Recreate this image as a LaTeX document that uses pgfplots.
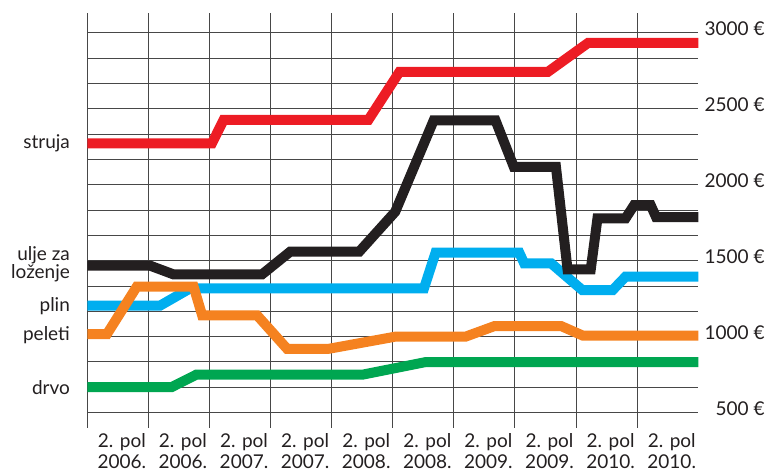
\documentclass[border=0pt]{standalone}
\usepackage{pgfplots}
\pgfplotsset{compat=1.18}
\usepackage{fontspec}
\setmainfont{Lato}

\definecolor{cstruja}{HTML}{ED1C24}
\definecolor{culje}{HTML}{231F20}
\definecolor{cplin}{HTML}{00AEEF}
\definecolor{cpeleti}{HTML}{F58220}
\definecolor{cdrvo}{HTML}{00A651}
\definecolor{ctext}{HTML}{231F20}

\begin{document}
\begin{tikzpicture}
\useasboundingbox (-43.65pt,-21.15pt) rectangle (340.35pt,213.85pt);
\begin{axis}[
    at={(0,0)}, anchor=south west,
    scale only axis, width=305.5pt, height=207.2pt,
    xmin=0, xmax=10, ymin=401, ymax=3128,
    clip=false,
    axis line style={draw=none},
    major tick length=0pt, minor tick length=0pt,
    xtick={0.565,1.565,2.565,3.565,4.565,5.565,6.565,7.565,8.565,9.565},
    xticklabels={{2. pol\\2006.},{2. pol\\2006.},{2. pol\\2007.},{2. pol\\2007.},{2. pol\\2008.},
                 {2. pol\\2008.},{2. pol\\2009.},{2. pol\\2009.},{2. pol\\2010.},{2. pol\\2010.}},
    minor xtick={0,1,2,3,4,5,6,7,8,9},
    xmajorgrids=false, xminorgrids=true,
    ytick={500,1000,1500,2000,2500,3000},
    yticklabels={500 €,1000 €,1500 €,2000 €,2500 €,3000 €},
    minor ytick={666.67,833.33,1166.67,1333.33,1666.67,1833.33,2166.67,2333.33,2666.67,2833.33},
    ymajorgrids=true, yminorgrids=true,
    grid style={black!72, line width=0.5pt},
    minor grid style={black!72, line width=0.5pt},
    yticklabel pos=right,
    xticklabel style={align=center, inner sep=0pt, anchor=north, yshift=-2.8pt,
        font=\fontsize{9.5}{10.5}\selectfont, text=ctext},
    yticklabel style={anchor=east, inner sep=0pt, xshift=33.35pt, yshift=2pt,
        font=\fontsize{9.5}{10.5}\selectfont, text=ctext},
    every axis plot/.append style={line width=5pt, line cap=butt, line join=miter},
]

% drvo
\addplot[cdrvo] coordinates {(0,668) (1.38,668) (1.79,751) (4.52,751) (5.54,833) (10,833)};
% plin
\addplot[cplin] coordinates {(0,1204) (1.19,1204) (1.68,1317) (5.51,1317) (5.70,1553) (7.07,1553)
    (7.15,1483) (7.59,1483) (8.10,1307) (8.60,1307) (8.81,1395) (10,1395)};
% peleti
\addplot[cpeleti] coordinates {(0,1016) (0.32,1016) (0.81,1329) (1.74,1329) (1.88,1140) (2.78,1140)
    (3.27,920) (3.95,920) (5.04,1000) (6.19,1000) (6.66,1069) (7.76,1069) (8.11,1007) (10,1007)};
% ulje za lozenje
\addplot[culje] coordinates {(0,1467) (1.03,1467) (1.41,1410) (2.86,1410) (3.32,1559) (4.45,1559)
    (5.04,1822) (5.67,2424) (6.68,2424) (6.98,2118) (7.67,2118) (7.86,1443) (8.24,1443)
    (8.35,1779) (8.81,1779) (8.95,1866) (9.22,1866) (9.31,1786) (10,1786)};
% struja
\addplot[cstruja] coordinates {(0,2272) (2.04,2272) (2.23,2426) (4.60,2426) (5.11,2743) (7.54,2743)
    (8.20,2934) (10,2934)};

\begin{scope}[every node/.style={anchor=east, inner sep=0pt, xshift=-8.5pt,
        font=\fontsize{9.5}{9}\selectfont, text=ctext, align=right}]
\node at (axis cs:0,2272) {struja};
\node at (axis cs:0,1478) {ulje za\\loženje};
\node at (axis cs:0,1200) {plin};
\node at (axis cs:0,1010) {peleti};
\node at (axis cs:0,662) {drvo};
\end{scope}
\end{axis}
\end{tikzpicture}
\end{document}
